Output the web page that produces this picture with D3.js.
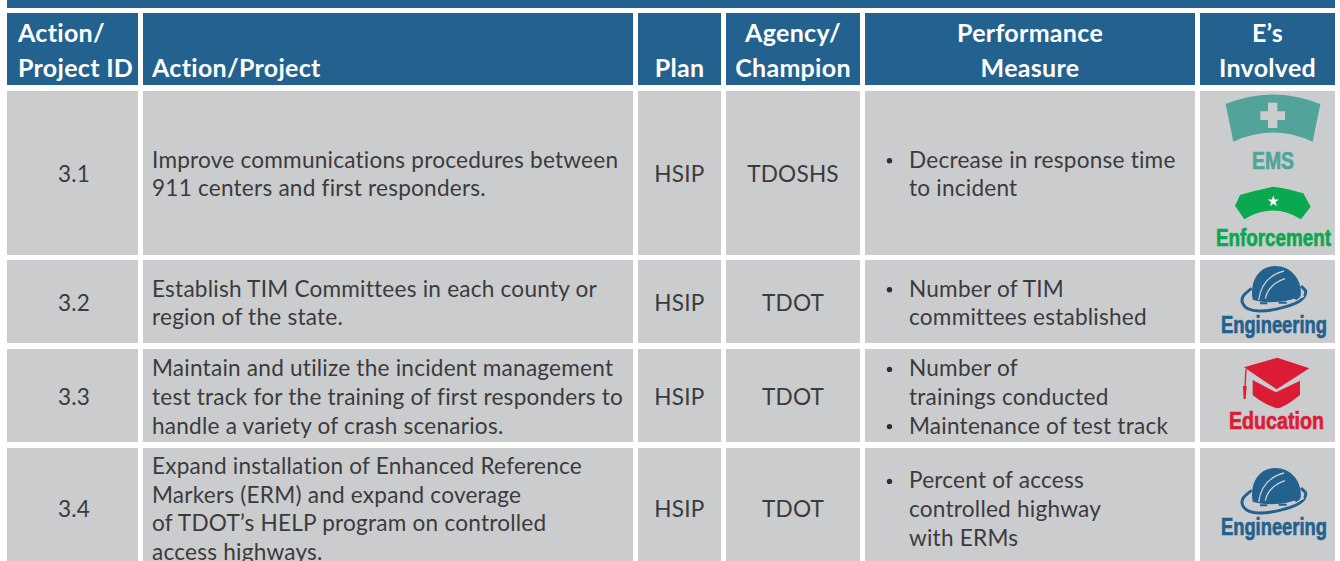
<!DOCTYPE html>
<html>
<head>
<meta charset="utf-8">
<script src="https://cdn.jsdelivr.net/npm/d3@7"></script>
<style>
  html, body { margin: 0; padding: 0; background: #fff; overflow: hidden; }
  svg { display: block; font-family: Lato, sans-serif; }
  .head { fill: #fff; font-size: 25px; font-weight: 700; letter-spacing: 0.3px; }
  .cell { fill: #3b3b3d; font-size: 22.6px; letter-spacing: 0.22px; }
  .badge { font-family: "Liberation Sans Narrow", "Liberation Sans", sans-serif; font-weight: 700; font-size: 24px; stroke-width: 0.7px; }
</style>
</head>
<body>
<svg id="chart" width="1340" height="561"></svg>
<script>
const columns = ["id", "action", "plan", "agency", "measure", "es"];
const headers = [
  ["Action/", "Project ID"],
  ["Action/Project"],
  ["Plan"],
  ["Agency/", "Champion"],
  ["Performance", "Measure"],
  ["E\u2019s", "Involved"],
];
const ids = ["3.1", "3.2", "3.3", "3.4"];
const actions = [
  ["Improve communications procedures between", "911 centers and first responders."],
  ["Establish TIM Committees in each county or", "region of the state."],
  ["Maintain and utilize the incident management", "test track for the training of first responders to", "handle a variety of crash scenarios."],
  ["Expand installation of Enhanced Reference", "Markers (ERM) and expand coverage", "of TDOT\u2019s HELP program on controlled", "access highways."],
];
const plans = ["HSIP", "HSIP", "HSIP", "HSIP"];
const agencies = ["TDOSHS", "TDOT", "TDOT", "TDOT"];
// each inner list is one bullet, each string one line of it
const measures = [
  [["Decrease in response time", "to incident"]],
  [["Number of TIM", "committees established"]],
  [["Number of", "trainings conducted"], ["Maintenance of test track"]],
  [["Percent of access", "controlled highway", "with ERMs"]],
];
const involved = [["EMS", "Enforcement"], ["Engineering"], ["Education"], ["Engineering"]];

const colEdges = [7, 143, 638, 726, 865, 1200];
const colEnds = [138, 633, 721, 860, 1195, 1335];
const rowTops = [91, 260, 349, 448];
const rowBottoms = [255, 343, 442, 561];
const rowMid = [174, 303, 397, 509];
const headTop = 13, headBottom = 85;
const lineH = 28.6;
const BLUE = "#23628e", GREY = "#cbccce";

const svg = d3.select("#chart");

const colX = d3.scaleOrdinal().domain(columns).range(colEdges);
const colW = d3.scaleOrdinal().domain(columns).range(colEnds.map((d, i) => d - colEdges[i]));
const rowY = d3.scaleOrdinal().domain(ids).range(rowTops);
const rowH = d3.scaleOrdinal().domain(ids).range(rowBottoms.map((d, i) => d - rowTops[i]));

// band of the title row, cut off by the top of the picture
svg.append("rect").attr("x", 7).attr("y", 0).attr("width", 1328).attr("height", 8).attr("fill", BLUE);

// header cells
svg.append("g").selectAll("rect").data(columns).join("rect")
  .attr("x", (d) => colX(d)).attr("y", headTop)
  .attr("width", (d) => colW(d)).attr("height", headBottom - headTop)
  .attr("fill", BLUE);

const headG = svg.append("g");
headers.forEach((lines, i) => {
  const c = columns[i];
  const left = c === "action" || c === "id";
  lines.forEach((t, j) => {
    headG.append("text").attr("class", "head")
      .attr("x", c === "id" ? 18 : left ? colX(c) + 9 : colX(c) + colW(c) / 2)
      .attr("y", 77 - (lines.length - 1 - j) * 35)
      .attr("text-anchor", left ? "start" : "middle")
      .text(t);
  });
});

// body cells
svg.append("g").selectAll("g").data(ids).join("g")
  .selectAll("rect").data((id) => columns.map((c) => ({ id, c }))).join("rect")
  .attr("x", (d) => colX(d.c)).attr("y", (d) => rowY(d.id))
  .attr("width", (d) => colW(d.c)).attr("height", (d) => rowH(d.id))
  .attr("fill", GREY);

const bodyG = svg.append("g");

function centred(values, c, nudge = 0) {
  bodyG.append("g").selectAll("text").data(values).join("text")
    .attr("class", "cell").attr("text-anchor", "middle")
    .attr("x", colX(c) + colW(c) / 2 + nudge)
    .attr("y", (_, i) => rowMid[i] + 8)
    .text((d) => d);
}
centred(ids, "id", 1.5);
centred(plans, "plan");
centred(agencies, "agency");

actions.forEach((lines, r) => {
  const first = rowMid[r] + 8 - ((lines.length - 1) * lineH) / 2;
  lines.forEach((t, j) => {
    bodyG.append("text").attr("class", "cell")
      .attr("x", colX("action") + 9)
      .attr("y", first + j * lineH)
      .text(t);
  });
});

measures.forEach((bullets, r) => {
  const n = d3.sum(bullets, (b) => b.length);
  let y = rowMid[r] + 8 - ((n - 1) * lineH) / 2;
  bullets.forEach((lines) => {
    bodyG.append("circle").attr("cx", 889.5).attr("cy", y - 7).attr("r", 2.7).attr("fill", "#2f2f31");
    lines.forEach((t) => {
      bodyG.append("text").attr("class", "cell").attr("x", 909).attr("y", y).text(t);
      y += lineH;
    });
  });
});

// E's icons, drawn in a local frame that is 3x the picture
function icon(originY) {
  return svg.append("g").attr("transform", `translate(1190,${originY}) scale(${1 / 3})`);
}
function badge(text, x0, x1, baseline, color) {
  const t = svg.append("text").attr("class", "badge").attr("fill", color).attr("stroke", color).text(text);
  const k = (x1 - x0) / t.node().getComputedTextLength();
  t.attr("transform", `translate(${x0},${baseline}) scale(${k},1)`);
}

function drawEms() {
  const g = icon(85);
  g.append("path").attr("fill", "#52a49a")
    .attr("d", "M107,57 Q248,0 391,57 L368,170 Q248,115 130,170 Z");
  g.append("path").attr("fill", GREY)
    .attr("d", "M234,53 H262 V79 H285 V105 H262 V129 H234 V105 H211 V79 H234 Z");
  badge("EMS", 1252, 1294, 169, "#52a49a");
}
function drawEnforcement() {
  const g = icon(85);
  g.append("path").attr("fill", "#0aa84f")
    .attr("d", "M135,362 L150,330 Q200,315 250,305 Q300,312 340,325 L362,365 L333,403 Q250,350 163,403 Z");
  const star = d3.range(10).map((i) => {
    const r = i % 2 ? 7 : 18, a = (i * Math.PI) / 5;
    return [250 + r * Math.sin(a), 349 - r * Math.cos(a)];
  });
  g.append("path").attr("fill", "#fff").attr("d", d3.line()(star) + "Z");
  badge("Enforcement", 1216, 1331, 246, "#0aa84f");
}
function drawEngineering(originY, baseline) {
  const g = icon(originY);
  const C = "#23628e";
  g.append("path").attr("fill", "none").attr("stroke", C).attr("stroke-width", 9)
    .attr("d", "M185,85 C165,100 150,112 158,130 C172,162 235,155 280,142 C320,132 350,118 347,92 L333,78");
  g.append("path").attr("fill", C).attr("stroke", C).attr("stroke-width", 4)
    .attr("d", "M190,118 C180,60 212,20 255,20 C305,20 335,62 330,108 C300,122 240,132 190,118 Z");
  g.append("path").attr("fill", "none").attr("stroke", GREY).attr("stroke-width", 4)
    .attr("d", "M206,120 C212,78 235,45 282,33 M226,116 C232,88 250,68 285,56");
  g.append("path").attr("fill", "none").attr("stroke", GREY).attr("stroke-width", 5)
    .attr("d", "M178,122 C225,142 292,132 342,108");
  g.append("path").attr("fill", "none").attr("stroke", C).attr("stroke-width", 6)
    .attr("d", "M210,130 H232 M266,128 H290 M316,118 L328,110");
  badge("Engineering", 1221, 1327, baseline, C);
}
function drawEducation() {
  const g = icon(260);
  const C = "#dc1c35";
  g.append("path").attr("fill", C).attr("d", "M162,322 L262,293 L358,325 L260,388 Z");
  g.append("path").attr("fill", C)
    .attr("d", "M188,360 L258,397 L330,362 L330,405 C305,425 275,445 262,445 C240,440 205,420 188,405 Z");
  g.append("path").attr("fill", "none").attr("stroke", C).attr("stroke-width", 4).attr("d", "M168,328 L165,380");
  g.append("path").attr("fill", C).attr("d", "M159,378 H170 L167,417 H161 Z");
  badge("Education", 1229, 1324, 429, C);
}

involved.forEach((names, r) => {
  names.forEach((n) => {
    if (n === "EMS") drawEms();
    if (n === "Enforcement") drawEnforcement();
    if (n === "Education") drawEducation();
    if (n === "Engineering") r === 1 ? drawEngineering(260, 333) : drawEngineering(462, 535);
  });
});
</script>
</body>
</html>
